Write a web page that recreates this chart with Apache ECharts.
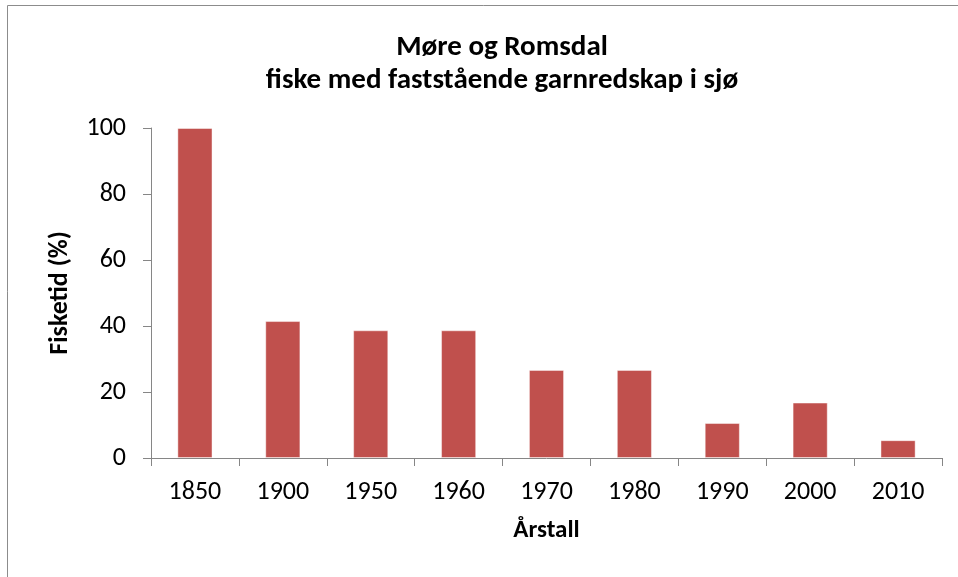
<!DOCTYPE html>
<html>
<head>
<meta charset="utf-8">
<script src="https://cdn.jsdelivr.net/npm/echarts@6/dist/echarts.min.js"></script>
<style>
  html, body { margin: 0; padding: 0; background: #fff; }
  #chart { width: 958px; height: 577px; }
</style>
</head>
<body>
<div id="chart"></div>
<script>
const years = ['1850', '1900', '1950', '1960', '1970', '1980', '1990', '2000', '2010']
const fisketid = [100, 41.5, 38.7, 38.7, 26.7, 26.7, 10.6, 16.8, 5.4]
const yTicks = { min: 0, max: 100, interval: 20 }

const FONT = 'Carlito, Calibri, Lato, sans-serif'
const chart = echarts.init(document.getElementById('chart'))

chart.setOption({
  animation: false,
  textStyle: { fontFamily: FONT },
  // ramme rundt diagrammet (går ut over kanten til høyre/under)
  graphic: [{
    type: 'rect',
    shape: { x: 7.5, y: 5.5, width: 1200, height: 1200 },
    style: { fill: 'none', stroke: '#8c8c8c', lineWidth: 1 },
    silent: true
  }],
  title: {
    text: 'Møre og Romsdal\nfiske med faststående garnredskap i sjø',
    left: 497,
    top: 26,
    textAlign: 'center',
    textStyle: { fontFamily: FONT, fontSize: 29, fontWeight: 'bold', color: '#000', lineHeight: 33 }
  },
  grid: { left: 151, right: 16, top: 128, bottom: 119 },
  xAxis: {
    type: 'category',
    data: years,
    name: 'Årstall',
    nameLocation: 'middle',
    nameGap: 60,
    nameTextStyle: { fontFamily: FONT, fontSize: 25, fontWeight: 'bold', color: '#000' },
    axisLine: { lineStyle: { color: '#868686', width: 1 } },
    axisTick: { show: true, length: 8, lineStyle: { color: '#868686' } },
    axisLabel: { color: '#000', fontSize: 26, margin: 21 },
    splitLine: { show: false }
  },
  yAxis: {
    type: 'value',
    min: yTicks.min,
    max: yTicks.max,
    interval: yTicks.interval,
    name: 'Fisketid (%)',
    nameLocation: 'middle',
    nameGap: 78,
    nameRotate: 90,
    nameTextStyle: { fontFamily: FONT, fontSize: 26, fontWeight: 'bold', color: '#000' },
    axisLine: { show: true, lineStyle: { color: '#868686', width: 1 } },
    axisTick: { show: true, length: 8, lineStyle: { color: '#868686' } },
    axisLabel: { color: '#000', fontSize: 26, margin: 25 },
    splitLine: { show: false }
  },
  series: [{
    type: 'bar',
    data: fisketid,
    barWidth: '40%',
    itemStyle: { color: '#C0504D', borderColor: 'rgba(255,255,255,0.45)', borderWidth: 1 }
  }]
})
</script>
</body>
</html>
